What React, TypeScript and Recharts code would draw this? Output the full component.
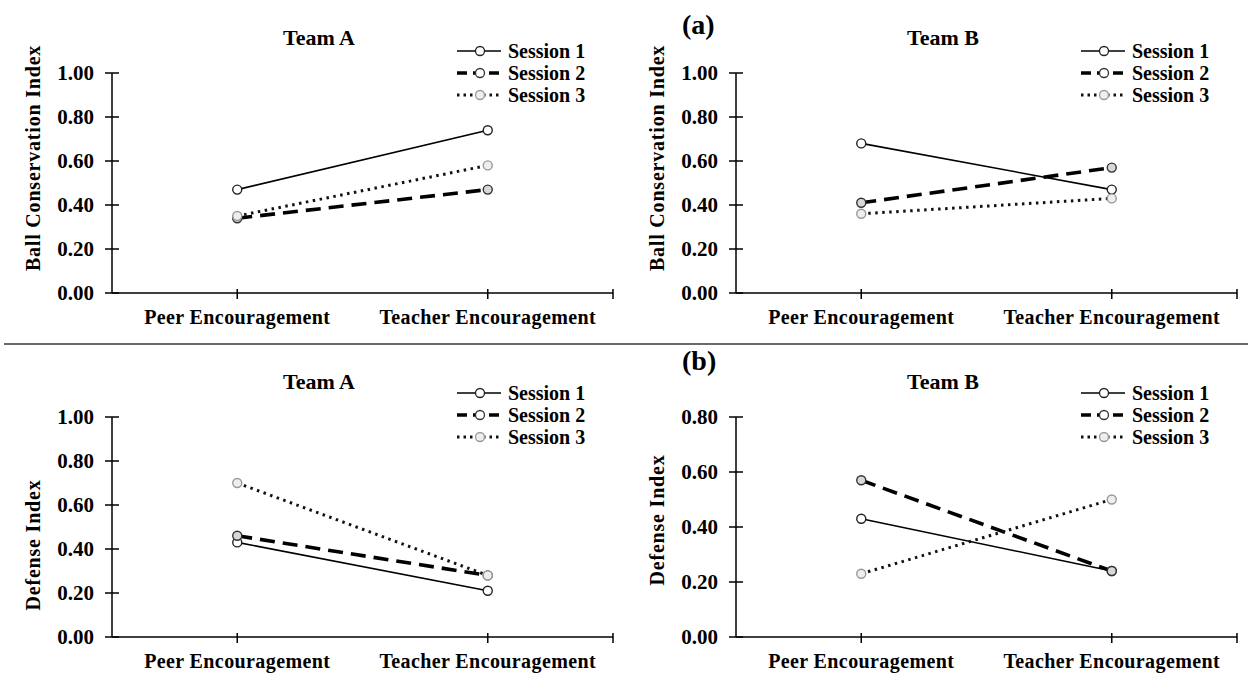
import React from 'react'
import { LineChart, Line, XAxis, YAxis, Legend, Customized } from 'recharts'

const categories = ['Peer Encouragement', 'Teacher Encouragement']
const sessions = ['Session 1', 'Session 2', 'Session 3']

// (a) ball conservation index
const ballA1 = [0.47, 0.74]
const ballA2 = [0.34, 0.47]
const ballA3 = [0.35, 0.58]
const ballB1 = [0.68, 0.47]
const ballB2 = [0.41, 0.57]
const ballB3 = [0.36, 0.43]

// (b) defense index
const defA1 = [0.43, 0.21]
const defA2 = [0.46, 0.28]
const defA3 = [0.7, 0.28]
const defB1 = [0.43, 0.24]
const defB2 = [0.57, 0.24]
const defB3 = [0.23, 0.5]

const ticksToOne = [0, 0.2, 0.4, 0.6, 0.8, 1.0]
const ticksToEight = [0, 0.2, 0.4, 0.6, 0.8]

const FONT = "'Liberation Serif', 'Times New Roman', serif"

const styles = [
  { stroke: '#000', width: 1.6, dash: undefined as string | undefined, dotStroke: '#222', dotFill: '#fff' },
  { stroke: '#000', width: 3.6, dash: '15 8', dotStroke: '#333', dotFill: '#d8d8d8' },
  { stroke: '#111', width: 3, dash: '2.5 4.5', dotStroke: '#999', dotFill: '#eee' },
]

function buildRows(series: number[][]) {
  return categories.map((category, i) => {
    const row: Record<string, string | number> = { x: i + 0.5, category }
    sessions.forEach((s, k) => {
      row[s] = series[k][i]
    })
    return row
  })
}

const xTicks = categories.map((_, i) => i + 0.5).concat(categories.length)

function XTick(props: any) {
  const { x, y, payload } = props
  const idx = Math.floor(payload.value)
  const label = payload.value % 1 !== 0 ? categories[idx] : ''
  return (
    <g>
      <line x1={x} x2={x} y1={y - 4} y2={y + 6} stroke="#000" strokeWidth={1.5} />
      {label && (
        <text x={x} y={y + 31} textAnchor="middle" fontFamily={FONT} fontWeight="bold" fontSize={20} letterSpacing={0.4} fill="#000">
          {label}
        </text>
      )}
    </g>
  )
}

function YTick(props: any) {
  const { x, y, payload } = props
  return (
    <g>
      <line x1={x - 7} x2={x + 7} y1={y} y2={y} stroke="#000" strokeWidth={1.5} />
      <text x={x - 18} y={y} dy="0.34em" textAnchor="end" fontFamily={FONT} fontWeight="bold" fontSize={21} fill="#000">
        {Number(payload.value).toFixed(2)}
      </text>
    </g>
  )
}

function LegendBox() {
  return (
    <div style={{ fontFamily: FONT, fontWeight: 'bold', fontSize: 20, color: '#000' }}>
      {sessions.map((s, k) => {
        const st = styles[k]
        return (
          <div key={s} style={{ display: 'flex', alignItems: 'center', height: 22, lineHeight: '22px' }}>
            <svg width={46} height={22} style={{ display: 'block' }}>
              <line x1={1} x2={45} y1={11} y2={11} stroke={st.stroke} strokeWidth={st.width} strokeDasharray={k === 1 ? '10 6' : k === 2 ? '2.5 4' : undefined} />
              <circle cx={24} cy={11} r={4.5} stroke={st.dotStroke} strokeWidth={1.3} fill={k === 2 ? st.dotFill : '#fff'} />
            </svg>
            <span style={{ marginLeft: 6, whiteSpace: 'nowrap' }}>{s}</span>
          </div>
        )
      })}
    </div>
  )
}

interface PanelProps {
  series: number[][]
  title: string
  yLabel: string
  ticks: number[]
  height: number
  plotTop: number
  xAxisHeight: number
  bottom: number
  titleY: number
  tag?: string
  tagY?: number
  yLabelY: number
  legendTop: number
}

function Panel(p: PanelProps) {
  const data = buildRows(p.series)
  const yMax = p.ticks[p.ticks.length - 1]
  return (
    <LineChart
      width={624}
      height={p.height}
      data={data}
      margin={{ top: p.plotTop, right: 11, left: 0, bottom: p.bottom }}
    >
      <XAxis
        dataKey="x"
        type="number"
        domain={[0, categories.length]}
        ticks={xTicks}
        interval={0}
        tickSize={0}
        tickMargin={0}
        tickLine={false}
        tick={<XTick />}
        height={p.xAxisHeight}
        axisLine={{ stroke: '#000', strokeWidth: 1.5 }}
      />
      <YAxis
        type="number"
        domain={[0, yMax]}
        ticks={p.ticks}
        interval={0}
        width={112}
        tickSize={0}
        tickMargin={0}
        tickLine={false}
        tick={<YTick />}
        axisLine={{ stroke: '#000', strokeWidth: 1.5 }}
        label={{
          content: () => (
            <text
              x={33}
              y={p.yLabelY}
              transform={`rotate(-90, 33, ${p.yLabelY})`}
              textAnchor="middle"
              dominantBaseline="central"
              fontFamily={FONT}
              fontWeight="bold"
              fontSize={20}
              letterSpacing={0.8}
              fill="#000"
            >
              {p.yLabel}
            </text>
          ),
        }}
      />
      {sessions.map((s, k) => (
        <Line
          key={s}
          type="linear"
          dataKey={s}
          name={s}
          stroke={styles[k].stroke}
          strokeWidth={styles[k].width}
          strokeDasharray={styles[k].dash}
          dot={{ r: 4.5, stroke: styles[k].dotStroke, strokeWidth: 1.4, fill: styles[k].dotFill, strokeDasharray: '' }}
          activeDot={false}
          isAnimationActive={false}
        />
      ))}
      <Legend
        layout="vertical"
        align="center"
        verticalAlign="middle"
        content={() => <LegendBox />}
        wrapperStyle={{ position: 'absolute', left: 456, top: p.legendTop, width: 'auto', height: 'auto' }}
      />
      <Customized
        component={() => (
          <g>
            <text x={319} y={p.titleY} textAnchor="middle" fontFamily={FONT} fontWeight="bold" fontSize={22} fill="#000">
              {p.title}
            </text>
            {p.tag && (
              <text x={58} y={p.tagY} fontFamily={FONT} fontWeight="bold" fontSize={28} fill="#000">
                {p.tag}
              </text>
            )}
          </g>
        )}
      />
    </LineChart>
  )
}

export default function App() {
  const top = { height: 340, plotTop: 73, xAxisHeight: 36, bottom: 11, titleY: 45, legendTop: 40 }
  const bot = { height: 333, plotTop: 77, xAxisHeight: 36, bottom: 0, titleY: 49, legendTop: 42 }
  return (
    <div style={{ position: 'absolute', left: 0, top: 0, width: 1248, height: 673, background: '#fff', overflow: 'hidden' }}>
      <div style={{ position: 'absolute', left: 0, top: 0 }}>
        <Panel {...top} series={[ballA1, ballA2, ballA3]} title="Team A" yLabel="Ball Conservation Index" ticks={ticksToOne} yLabelY={158} />
      </div>
      <div style={{ position: 'absolute', left: 624, top: 0 }}>
        <Panel {...top} series={[ballB1, ballB2, ballB3]} title="Team B" yLabel="Ball Conservation Index" ticks={ticksToOne} yLabelY={158} tag="(a)" tagY={34} />
      </div>
      <div style={{ position: 'absolute', left: 4, top: 343, width: 1244, height: 2, background: '#6a6a6a' }} />
      <div style={{ position: 'absolute', left: 0, top: 340 }}>
        <Panel {...bot} series={[defA1, defA2, defA3]} title="Team A" yLabel="Defense Index" ticks={ticksToOne} yLabelY={205} />
      </div>
      <div style={{ position: 'absolute', left: 624, top: 340 }}>
        <Panel {...bot} series={[defB1, defB2, defB3]} title="Team B" yLabel="Defense Index" ticks={ticksToEight} yLabelY={180} tag="(b)" tagY={30} />
      </div>
    </div>
  )
}
